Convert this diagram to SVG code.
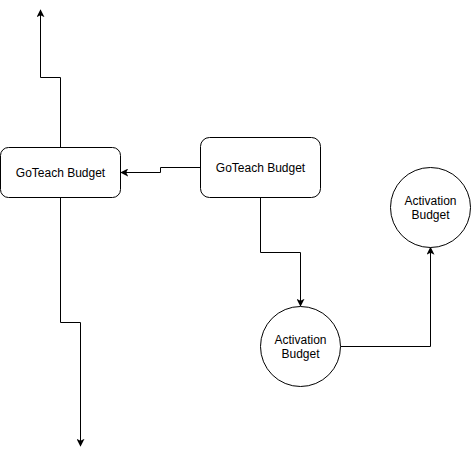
<svg xmlns="http://www.w3.org/2000/svg" width="471" height="456" viewBox="0 0 471 456">
<style>
.node{fill:#ffffff;stroke:#000000;stroke-width:1}
.edge{fill:none;stroke:#000000;stroke-width:1}
text{font-family:"Liberation Sans",Arial,sans-serif;font-size:12px;fill:#000000;text-anchor:middle}
</style>
<defs>
<marker id="arr" viewBox="0 0 10 10" refX="9" refY="5" markerWidth="8" markerHeight="8" markerUnits="userSpaceOnUse" orient="auto">
<path d="M0,0 L10,5 L0,10 L2.5,5 Z" fill="#000000"/>
</marker>
</defs>
<rect width="471" height="456" fill="#ffffff"/>
<g id="connectors">
<path class="edge" d="M60.5,147.5 V77.5 H40.5 V10" marker-end="url(#arr)"/>
<path class="edge" d="M60.5,197.5 V322.5 H80.5 V446" marker-end="url(#arr)"/>
<path class="edge" d="M200.5,167.5 H160.5 V172.5 H121" marker-end="url(#arr)"/>
<path class="edge" d="M260.5,197.5 V252.5 H300.5 V306" marker-end="url(#arr)"/>
<path class="edge" d="M340.5,346.5 H430.5 V247.5" marker-end="url(#arr)"/>
</g>
<g id="node-goteach-left">
<rect class="node" x="0.5" y="147.5" width="120" height="50" rx="8" ry="8"/>
<text x="60.5" y="176.5">GoTeach Budget</text>
</g>
<g id="node-goteach-right">
<rect class="node" x="200.5" y="137.5" width="120" height="60" rx="9" ry="9"/>
<text x="260.5" y="171.5">GoTeach Budget</text>
</g>
<g id="node-activation-bottom">
<circle class="node" cx="300.5" cy="346.5" r="40"/>
<text x="300.5" y="344">Activation</text>
<text x="300.5" y="358">Budget</text>
</g>
<g id="node-activation-top">
<circle class="node" cx="430.5" cy="207.5" r="40"/>
<text x="430.5" y="205">Activation</text>
<text x="430.5" y="219">Budget</text>
</g>
</svg>
